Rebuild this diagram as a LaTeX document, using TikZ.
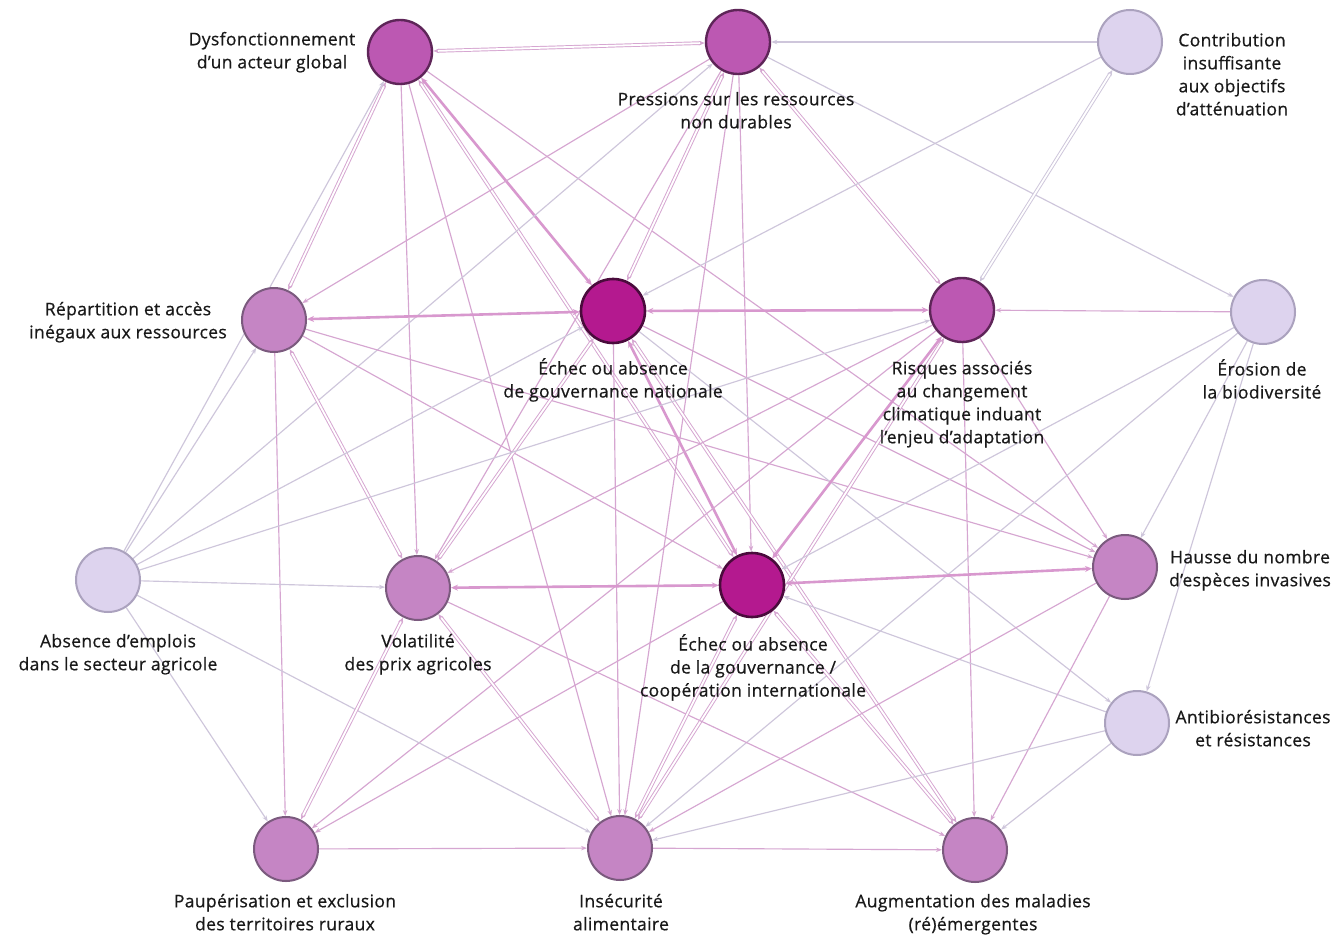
\documentclass[tikz,border=0pt]{standalone}
\usepackage{fontspec}
\setmainfont{Open Sans}
\newfontface\labfont{Open Sans}[FakeBold=0.6,LetterSpace=2]
\usetikzlibrary{arrows.meta}
\pgfdeclarelayer{bg}
\pgfsetlayers{bg,main}
\definecolor{nstrongF}{HTML}{B4198F}
\definecolor{nstrongD}{HTML}{4A0B3C}
\definecolor{nmedF}{HTML}{BC58B2}
\definecolor{nmedD}{HTML}{5E2558}
\definecolor{nlightF}{HTML}{C585C4}
\definecolor{nlightD}{HTML}{7B5A7E}
\definecolor{npaleF}{HTML}{DDD3EE}
\definecolor{npaleD}{HTML}{ABA2BE}
\definecolor{edgeP}{HTML}{D6A6D1}
\definecolor{edgeL}{HTML}{CEC6DB}
\definecolor{edgeT}{HTML}{D898CE}
\tikzset{
 nd/.style={circle, minimum size=64pt, inner sep=0pt},
 nstrong/.style={nd, fill=nstrongF, draw=nstrongD, line width=2.6pt},
 nmed/.style={nd, fill=nmedF, draw=nmedD, line width=2.4pt},
 nlight/.style={nd, fill=nlightF, draw=nlightD, line width=2pt},
 npale/.style={nd, fill=npaleF, draw=npaleD, line width=2pt},
 lab/.style={align=center, inner sep=0pt, anchor=north, font=\labfont\fontsize{17.5}{23}\selectfont, text=black!90},
 arrtip/.style={-{Stealth[length=6pt,width=4.5pt]}},
 ed/.style={draw=edgeP, line width=1.15pt, arrtip},
 edl/.style={draw=edgeL, line width=1.15pt, arrtip},
 edb/.style={draw=edgeP, line width=0.95pt, double=white, double distance=1.8pt, {Stealth[length=6pt,width=4.5pt]}-{Stealth[length=6pt,width=4.5pt]}},
 edlb/.style={edb, draw=edgeL},
 edt/.style={draw=edgeT, line width=2.6pt, {Stealth[length=7pt,width=6pt]}-{Stealth[length=7pt,width=6pt]}},
}
\begin{document}
\begin{tikzpicture}[x=1pt,y=-1pt]
\useasboundingbox (0,0) rectangle (1337,936);
% nodes
\node[nmed] (A) at (400,52) {};
\node[nmed] (B) at (738,42) {};
\node[npale] (C) at (1130,42) {};
\node[nlight] (D) at (274,320) {};
\node[nstrong] (E) at (613,311) {};
\node[nmed] (F) at (962,310) {};
\node[npale] (G) at (1263,312) {};
\node[npale] (H) at (108,580) {};
\node[nlight] (I) at (418,588) {};
\node[nstrong] (J) at (752,585) {};
\node[nlight] (K) at (1125,567) {};
\node[npale] (L) at (1137,723) {};
\node[nlight] (M) at (286,849) {};
\node[nlight] (N) at (620,848) {};
\node[nlight] (O) at (975,850) {};
% labels
\node[lab] (lA) at (272,29) {\strut Dysfonctionnement\\d’un acteur global};
\node[lab] (lB) at (736,89) {\strut Pressions sur les ressources\\non durables};
\node[lab] (lC) at (1232,30) {\strut Contribution\\insuffisante\\aux objectifs\\d’atténuation};
\node[lab] (lD) at (128,299) {\strut Répartition et accès\\inégaux aux ressources};
\node[lab] (lE) at (613,358) {\strut Échec ou absence\\de gouvernance nationale};
\node[lab] (lF) at (962,358) {\strut Risques associés\\au changement\\climatique induant\\l’enjeu d’adaptation};
\node[lab] (lG) at (1262,359) {\strut Érosion de\\la biodiversité};
\node[lab] (lH) at (118,631) {\strut Absence d’emplois\\dans le secteur agricole};
\node[lab] (lI) at (418,631) {\strut Volatilité\\des prix agricoles};
\node[lab] (lJ) at (753,634) {\strut Échec ou absence\\de la gouvernance /\\coopération internationale};
\node[lab] (lK) at (1250,547) {\strut Hausse du nombre\\d’espèces invasives};
\node[lab] (lL) at (1253,707) {\strut Antibiorésistances\\et résistances};
\node[lab] (lM) at (285,891) {\strut Paupérisation et exclusion\\des territoires ruraux};
\node[lab] (lN) at (621,891) {\strut Insécurité\\alimentaire};
\node[lab] (lO) at (973,891) {\strut Augmentation des maladies\\(ré)émergentes};
% edges
\begin{pgfonlayer}{bg}
\fill[white] (0,0) rectangle (1337,936);
\draw[edb] (A) -- (B);
\draw[edl] (C) -- (B);
\draw[edb] (A) -- (D);
\draw[edl] (H) -- (A);
\draw[edt] (A) -- (E);
\draw[edb] (A) -- (J);
\draw[ed] (A) -- (I);
\draw[ed] (A) -- (N);
\draw[ed] (A) -- (K);
\draw[ed] (B) -- (D);
\draw[edl] (H) -- (B);
\draw[edb] (B) -- (E);
\draw[ed] (B) -- (I);
\draw[ed] (B) -- (N);
\draw[ed] (B) -- (J);
\draw[edb] (B) -- (F);
\draw[edl] (B) -- (G);
\draw[edl] (C) -- (E);
\draw[edlb] (C) -- (F);
\draw[edt] (D) -- (E);
\draw[edl] (H) -- (D);
\draw[edb] (D) -- (I);
\draw[ed] (D) -- (M);
\draw[ed] (D) -- (J);
\draw[ed] (D) -- (K);
\draw[edt] (E) -- (F);
\draw[ed] (G) -- (F);
\draw[edl] (H) -- (E);
\draw[edb] (E) -- (I);
\draw[edt] (E) -- (J);
\draw[ed] (E) -- (N);
\draw[edb] (E) -- (O);
\draw[ed] (E) -- (K);
\draw[edl] (E) -- (L);
\draw[edl] (H) -- (F);
\draw[ed] (F) -- (I);
\draw[edt] (F) -- (J);
\draw[ed] (F) -- (K);
\draw[ed] (F) -- (M);
\draw[edb] (F) -- (N);
\draw[ed] (F) -- (O);
\draw[edl] (G) -- (J);
\draw[edl] (G) -- (K);
\draw[edl] (G) -- (L);
\draw[edl] (G) -- (N);
\draw[edl] (H) -- (I);
\draw[edl] (H) -- (M);
\draw[edl] (H) -- (N);
\draw[edt] (I) -- (J);
\draw[edb] (I) -- (M);
\draw[edb] (I) -- (N);
\draw[ed] (I) -- (O);
\draw[edt] (J) -- (K);
\draw[ed] (J) -- (M);
\draw[edb] (J) -- (N);
\draw[edb] (J) -- (O);
\draw[edl] (L) -- (J);
\draw[ed] (K) -- (N);
\draw[ed] (K) -- (O);
\draw[edl] (L) -- (N);
\draw[edl] (L) -- (O);
\draw[ed] (M) -- (N);
\draw[ed] (N) -- (O);
\end{pgfonlayer}
\end{tikzpicture}
\end{document}
